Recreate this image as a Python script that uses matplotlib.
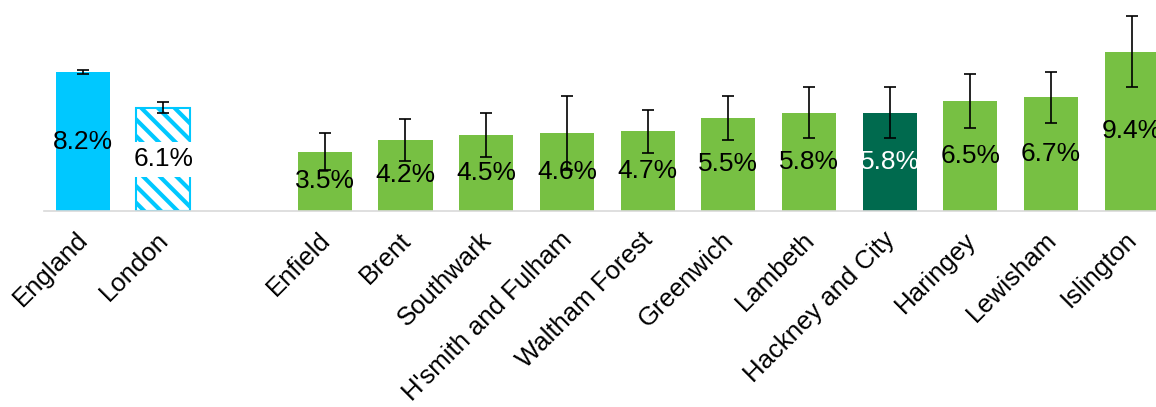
import matplotlib
matplotlib.use("Agg")
import matplotlib.pyplot as plt
import matplotlib.transforms as mtransforms
import numpy as np

plt.rcParams['font.family'] = ['Liberation Sans', 'DejaVu Sans']
plt.rcParams['hatch.linewidth'] = 3.0

categories = ["England", "London", "", "Enfield", "Brent", "Southwark", "H'smith and Fulham",
              "Waltham Forest", "Greenwich", "Lambeth", "Hackney and City", "Haringey",
              "Lewisham", "Islington"]
values = [8.2, 6.1, None, 3.5, 4.2, 4.5, 4.6, 4.7, 5.5, 5.8, 5.8, 6.5, 6.7, 9.4]
errors = [0.1, 0.31, None, 1.1, 1.23, 1.3, 2.2, 1.25, 1.3, 1.5, 1.5, 1.6, 1.5, 2.1]
labels = ["8.2%", "6.1%", "", "3.5%", "4.2%", "4.5%", "4.6%", "4.7%", "5.5%", "5.8%",
          "5.8%", "6.5%", "6.7%", "9.4%"]

CYAN = "#00C8FF"
GREEN = "#77C043"
DARK = "#006A4E"

fig = plt.figure(figsize=(11.56, 4.07), dpi=100)
ax = fig.add_axes([0.038, 1 - 211/407, 0.962, 211/407])

x = np.arange(len(categories))
w = 0.67
for i, (v, e, lab) in enumerate(zip(values, errors, labels)):
    if v is None:
        continue
    if i == 0:
        ax.bar(i, v, w, color=CYAN, zorder=2)
        tc = "black"
    elif i == 1:
        ax.bar(i, v, w, facecolor="white", edgecolor=CYAN, hatch="\\\\", linewidth=1.5, zorder=2)
        tc = "black"
    elif categories[i] == "Hackney and City":
        ax.bar(i, v, w, color=DARK, zorder=2)
        tc = "white"
    else:
        ax.bar(i, v, w, color=GREEN, zorder=2)
        tc = "black"
    ax.errorbar(i, v, yerr=e, fmt="none", ecolor="black", elinewidth=1.2, capsize=4,
                capthick=1.2, zorder=4)
    if i == 1:
        ax.text(i, v / 2, lab, ha="center", va="center", fontsize=19, color=tc, zorder=5,
                bbox=dict(boxstyle="square,pad=0.22", facecolor="white", edgecolor="none"))
    else:
        ax.text(i, v / 2, lab, ha="center", va="center", fontsize=19, color=tc, zorder=5)

ax.set_xlim(-0.48, 13.3)
ax.set_ylim(0, 12.45)
ax.set_yticks([])
ax.set_xticks([i for i in x if categories[i]])
ax.set_xticklabels([c for c in categories if c], rotation=45, ha="right",
                   rotation_mode="anchor", fontsize=18.5)
ax.tick_params(axis="x", length=0, pad=12)
offset = mtransforms.ScaledTranslation(-7 / 100, 0, fig.dpi_scale_trans)
for t in ax.get_xticklabels():
    t.set_transform(t.get_transform() + offset)
for s in ["top", "right", "left"]:
    ax.spines[s].set_visible(False)
ax.spines["bottom"].set_color("#D9D9D9")
ax.spines["bottom"].set_linewidth(1.2)

fig.savefig("out.png", dpi=100)
